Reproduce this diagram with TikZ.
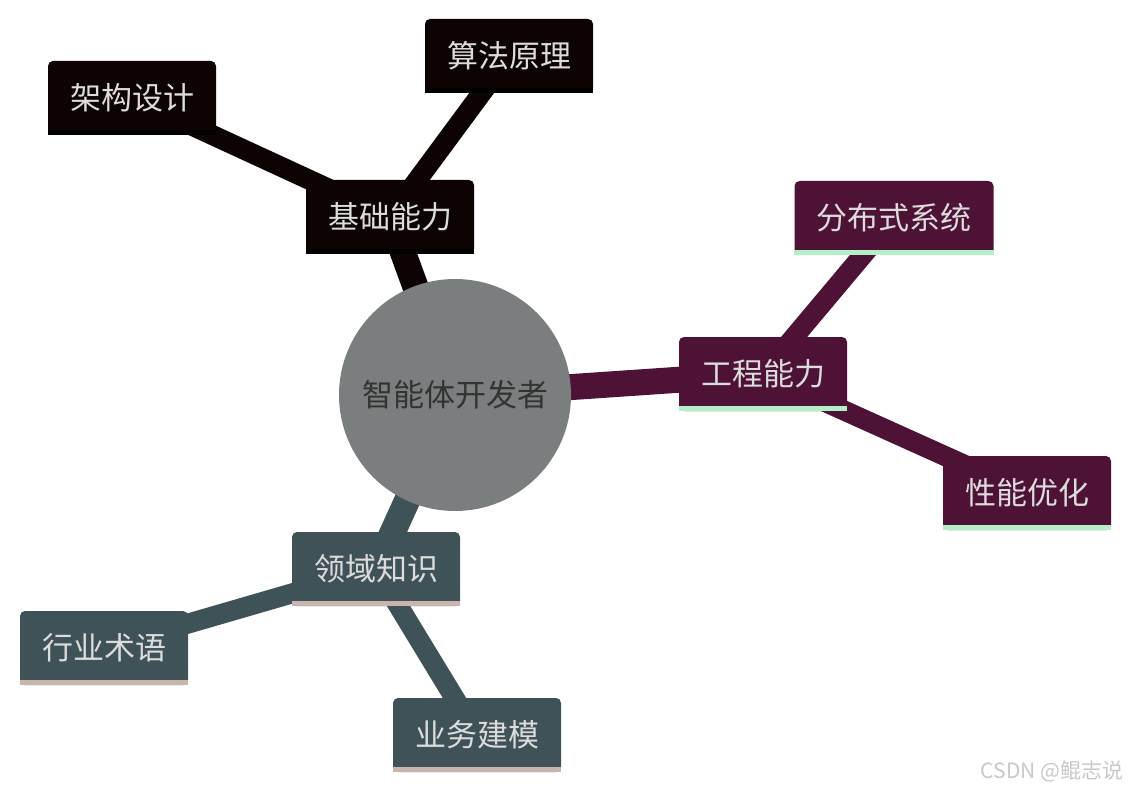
\documentclass[tikz,border=0pt]{standalone}
\usepackage{fontspec}
\setmainfont{Noto Sans CJK SC}
\usepackage{tikz}
\usetikzlibrary{backgrounds}

\definecolor{rootgray}{HTML}{7B7E7E}
\definecolor{rootink}{HTML}{333333}
\definecolor{baseblack}{HTML}{0D0303}
\definecolor{engpurple}{HTML}{4E1236}
\definecolor{domslate}{HTML}{3F5257}
\definecolor{baseline}{HTML}{E6FFFF}
\definecolor{engline}{HTML}{B3F0C8}
\definecolor{domline}{HTML}{C9B4AE}
\definecolor{labelink}{HTML}{DCDCDC}
\definecolor{markgray}{HTML}{C8C8C8}

\begin{document}
\begin{tikzpicture}[
		x=1pt,
		y=-1pt,
		root/.style={circle, fill=rootgray, text=rootink, inner sep=0pt, minimum size=232pt, font=\fontsize{31}{36}\selectfont},
		topic/.style={fill=#1, rounded corners=5pt, text=labelink, inner xsep=22pt, minimum height=74pt, font=\fontsize{31}{36}\selectfont},
		trunk/.style={line width=26pt, draw=#1},
		twig/.style={line width=20pt, draw=#1}
		]
		\useasboundingbox (0,0) rectangle (1131,791);
		
		% Root
		\node[root] (root) at (455,395) {智能体开发者};
		
		% Basics
		\node[topic=baseblack] (base) at (390,217) {基础能力};
		\node[topic=baseblack] (arch) at (132,98) {架构设计};
		\node[topic=baseblack] (algo) at (509,56) {算法原理};
		
		% Engineering
		\node[topic=engpurple] (eng) at (763,374) {工程能力};
		\node[topic=engpurple] (dist) at (894,218) {分布式系统};
		\node[topic=engpurple] (perf) at (1027,493) {性能优化};
		
		% Domain
		\node[topic=domslate] (dom) at (376,569) {领域知识};
		\node[topic=domslate] (term) at (104,648) {行业术语};
		\node[topic=domslate] (model) at (477,735) {业务建模};
		
		% Underlines
		\foreach \n/\c in {base/baseline, arch/baseline, algo/baseline,
			eng/engline, dist/engline, perf/engline,
			dom/domline, term/domline, model/domline}
			\fill[\c] (\n.south west) rectangle ([yshift=5pt]\n.south east);
		
		% Branches
		\begin{scope}[on background layer]
			\draw[trunk=baseblack] (root.center) -- (base.center);
			\draw[twig=baseblack] (base.center) -- (arch.center);
			\draw[twig=baseblack] (base.center) -- (algo.center);
			\draw[trunk=engpurple] (root.center) -- (eng.center);
			\draw[twig=engpurple] (eng.center) -- (dist.center);
			\draw[twig=engpurple] (eng.center) -- (perf.center);
			\draw[trunk=domslate] (root.center) -- (dom.center);
			\draw[twig=domslate] (dom.center) -- (term.center);
			\draw[twig=domslate] (dom.center) -- (model.center);
		\end{scope}
		
		% Watermark
		\node[text=markgray, font=\fontsize{21}{24}\selectfont] (mark) at (1052,771) {CSDN @鲲志说};
	\end{tikzpicture}
\end{document}
